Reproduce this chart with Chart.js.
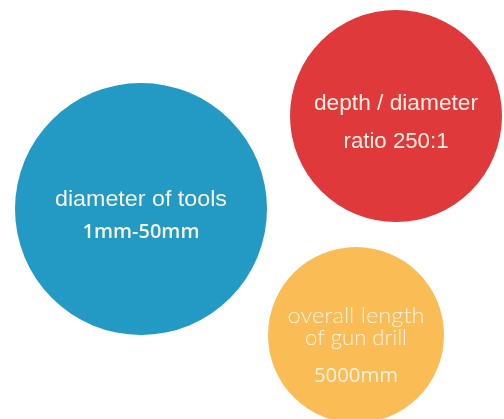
<!DOCTYPE html>
<html>
<head>
<meta charset="utf-8">
<script src="https://cdn.jsdelivr.net/npm/chart.js@4"></script>
<style>
  html, body { margin: 0; padding: 0; background: #fff; }
  #wrap { width: 504px; height: 419px; }
</style>
</head>
<body>
<div id="wrap"><canvas id="c"></canvas></div>
<script>
  // bubble centres (page units, y down) and radii
  const xs = [141, 396, 356];
  const ys = [209, 116, 335];
  const radii = [126, 106, 88];
  const colors = ["#229ac4", "#e0393b", "#fabd56"];

  // label lines per bubble
  const labels = [
    ["diameter of tools", "1mm-50mm"],
    ["depth / diameter", "ratio 250:1"],
    ["overall length", "of gun drill", "5000mm"],
  ];

  // baseline offset from bubble centre, font, and the width the line spans
  const textStyle = [
    [
      { dy: -3, font: '22px Arial, "Liberation Sans", sans-serif', w: 172 },
      { dy: 29, font: '600 19px "Open Sans", sans-serif', w: 117 },
    ],
    [
      { dy: -6, font: '22px Arial, "Liberation Sans", sans-serif', w: 164 },
      { dy: 32, font: '22px Arial, "Liberation Sans", sans-serif', w: 105 },
    ],
    [
      { dy: -12, font: '300 21px Lato, sans-serif', w: 137 },
      { dy: 10, font: '300 21px Lato, sans-serif', w: 102 },
      { dy: 47, font: '400 20px "Open Sans", sans-serif', w: 84 },
    ],
  ];

  const labelPlugin = {
    id: "bubbleLabels",
    afterDatasetsDraw(chart) {
      const ctx = chart.ctx;
      const meta = chart.getDatasetMeta(0);
      ctx.save();
      ctx.fillStyle = "#f7f1e4";
      ctx.textAlign = "center";
      ctx.textBaseline = "alphabetic";
      meta.data.forEach((el, i) => {
        labels[i].forEach((txt, j) => {
          const s = textStyle[i][j];
          ctx.font = s.font;
          const sx = s.w / ctx.measureText(txt).width;
          ctx.save();
          ctx.translate(el.x, el.y + s.dy);
          ctx.scale(sx, 1);
          ctx.fillText(txt, 0, 0);
          ctx.restore();
        });
      });
      ctx.restore();
    },
  };

  new Chart(document.getElementById("c"), {
    type: "bubble",
    data: {
      datasets: [{
        data: xs.map((x, i) => ({ x, y: ys[i], r: radii[i] })),
        backgroundColor: colors,
        hoverBackgroundColor: colors,
        borderWidth: 0,
        hoverBorderWidth: 0,
        clip: false,
      }],
    },
    options: {
      responsive: true,
      maintainAspectRatio: false,
      animation: false,
      events: [],
      layout: { padding: 0, autoPadding: false },
      plugins: { legend: { display: false }, tooltip: { enabled: false } },
      scales: {
        x: { display: false, min: 0, max: 504 },
        y: { display: false, min: 0, max: 419, reverse: true },
      },
    },
    plugins: [labelPlugin],
  });
</script>
</body>
</html>
